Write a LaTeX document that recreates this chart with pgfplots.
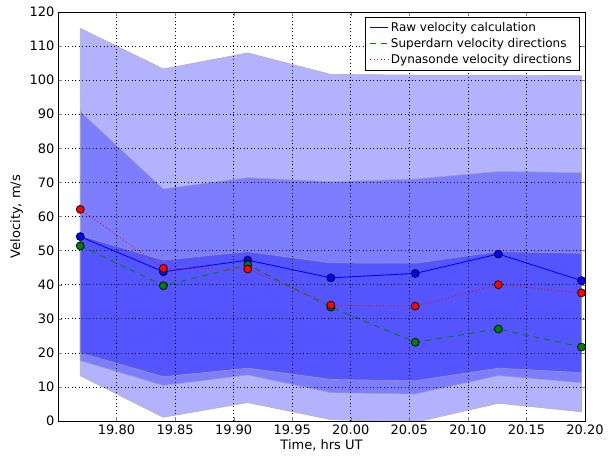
\documentclass[border=0pt]{standalone}
\usepackage{pgfplots}
\pgfplotsset{compat=1.18}
\usepackage{fontspec}
\setmainfont{DejaVu Sans}
\definecolor{bandA}{RGB}{178,178,255}
\definecolor{bandB}{RGB}{125,125,255}
\definecolor{bandC}{RGB}{85,85,255}
\definecolor{mgreen}{RGB}{0,128,0}
\pgfplotsset{
  legblue/.style={legend image code/.code={\draw[draw=blue, line width=0.9pt] (0pt,0pt) -- (18pt,0pt);}},
  leggreen/.style={legend image code/.code={\draw[draw=mgreen, line width=0.9pt, dash pattern=on 6pt off 5pt] (0pt,0pt) -- (18pt,0pt);}},
  legred/.style={legend image code/.code={\draw[draw=red, line width=0.9pt, dash pattern=on 1pt off 2.5pt] (0pt,0pt) -- (18pt,0pt);}},
}
\begin{document}
\begin{tikzpicture}
\begin{axis}[
  scale only axis, width=527pt, height=409pt,
  xmin=19.75, xmax=20.20, ymin=0, ymax=120,
  xtick={19.80,19.85,...,20.21},
  ytick={0,10,...,120},
  x tick label style={/pgf/number format/.cd, fixed, fixed zerofill, precision=2},
  /pgf/number format/assume math mode=true,
  tick label style={font=\fontsize{13}{15}\selectfont},
  label style={font=\fontsize{13}{15}\selectfont},
  xlabel={Time, hrs UT}, ylabel={Velocity, m/s},
  xlabel style={yshift=2pt},
  tick align=inside, major tick length=4pt,
  grid=major, major grid style={black, line width=0.6pt, dash pattern=on 1pt off 2.5pt},
  axis on top, axis line style={line width=0.8pt},
  legend style={at={(rel axis cs:1,1)}, anchor=north east, xshift=-6pt, yshift=-5pt,
    font=\fontsize{12}{14}\selectfont, row sep=1.5pt,
    inner xsep=5pt, inner ysep=3pt},
  legend cell align=left,
]
% outer band
\addplot[fill=bandA, draw=black!30, line width=0.6pt, forget plot] coordinates {
(19.769,115.2) (19.840,103.3) (19.912,108.0) (19.983,101.7) (20.055,101.5) (20.126,101.5) (20.197,101.3)
(20.197,2.7) (20.126,5.2) (20.055,-0.4) (19.983,0.4) (19.912,5.4) (19.840,1.1) (19.769,13.3) (19.769,115.2)};
% middle band
\addplot[fill=bandB, draw=black!35, line width=0.6pt, forget plot] coordinates {
(19.769,90.8) (19.840,68.1) (19.912,71.4) (19.983,70.2) (20.055,71.0) (20.126,73.2) (20.197,72.9)
(20.197,11.2) (20.126,13.3) (20.055,7.9) (19.983,8.3) (19.912,13.5) (19.840,10.4) (19.769,17.7) (19.769,90.8)};
% inner band
\addplot[fill=bandC, draw=black!40, line width=0.6pt, forget plot] coordinates {
(19.769,54.4) (19.840,47.2) (19.912,49.7) (19.983,46.4) (20.055,46.3) (20.126,49.7) (20.197,49.2)
(20.197,14.2) (20.126,15.5) (20.055,11.8) (19.983,12.2) (19.912,15.5) (19.840,13.0) (19.769,20.0) (19.769,54.4)};
% lines
\addplot[blue, line width=0.9pt, legblue] coordinates {
(19.769,54.1) (19.840,43.8) (19.912,47.2) (19.983,42.0) (20.055,43.3) (20.126,49.0) (20.197,41.2)};
\addlegendentry{Raw velocity calculation}
\addplot[mgreen, line width=0.9pt, dash pattern=on 6pt off 5pt, leggreen] coordinates {
(19.769,51.4) (19.840,39.7) (19.912,45.8) (19.983,33.4) (20.055,23.1) (20.126,27.0) (20.197,21.7)};
\addlegendentry{Superdarn velocity directions}
\addplot[red, line width=0.9pt, dash pattern=on 1pt off 2.5pt, legred] coordinates {
(19.769,62.1) (19.840,44.8) (19.912,44.6) (19.983,34.0) (20.055,33.7) (20.126,40.0) (20.197,37.6)};
\addlegendentry{Dynasonde velocity directions}
% markers
\addplot[only marks, mark=*, mark size=4pt, mark options={fill=blue, draw=black, line width=0.7pt}, forget plot] coordinates {
(19.769,54.1) (19.840,43.8) (19.912,47.2) (19.983,42.0) (20.055,43.3) (20.126,49.0) (20.197,41.2)};
\addplot[only marks, mark=*, mark size=4pt, mark options={fill=mgreen, draw=black, line width=0.7pt}, forget plot] coordinates {
(19.769,51.4) (19.840,39.7) (19.912,45.8) (19.983,33.4) (20.055,23.1) (20.126,27.0) (20.197,21.7)};
\addplot[only marks, mark=*, mark size=4pt, mark options={fill=red, draw=black, line width=0.7pt}, forget plot] coordinates {
(19.769,62.1) (19.840,44.8) (19.912,44.6) (19.983,34.0) (20.055,33.7) (20.126,40.0) (20.197,37.6)};
\end{axis}
\pgfresetboundingbox
\path[use as bounding box] ([shift={(-58pt,-40pt)}]current axis.south west) rectangle ([shift={(24pt,12pt)}]current axis.north east);
\end{tikzpicture}
\end{document}
